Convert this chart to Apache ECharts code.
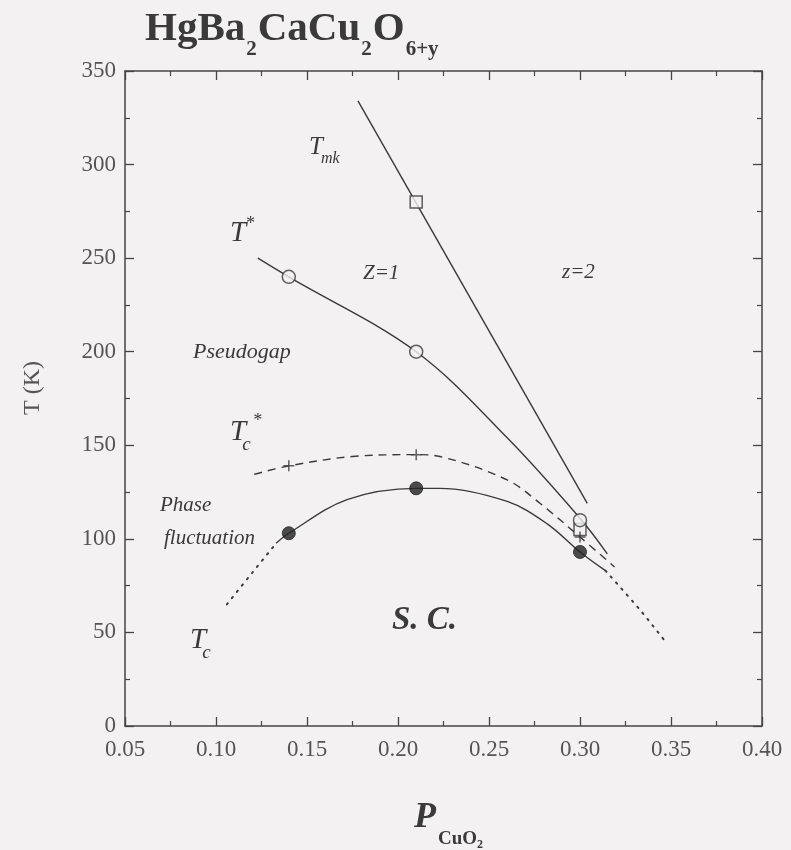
<!DOCTYPE html>
<html>
<head>
<meta charset="utf-8">
<script src="https://cdn.jsdelivr.net/npm/echarts@6/dist/echarts.min.js"></script>
<style>
  html, body { margin: 0; padding: 0; background: #f3f1f1; }
  #chart { width: 791px; height: 850px; }
</style>
</head>
<body>
<div id="chart"></div>
<script>
// Phase diagram of HgBa2CaCu2O6+y: temperature (K) versus hole content per CuO2 plane.

// axis ranges and ticks
const xRange = [0.05, 0.40];
const xStep = 0.05;
const yRange = [0, 350];
const yStep = 50;

// measured points
const tStarPts = [[0.14, 240], [0.21, 200], [0.30, 110]];     // T*  (open circles)
const tmkPts = [[0.21, 280], [0.30, 105]];                    // T_mk (open squares)
const tcStarPts = [[0.14, 139], [0.21, 145], [0.30, 101]];    // Tc* (crosses)
const tcPts = [[0.14, 103], [0.21, 127], [0.30, 93]];         // Tc  (filled circles)

// guide curves through the points
const tStarCurve = [[0.123, 250], [0.14, 240], [0.21, 200], [0.26, 154], [0.30, 111], [0.315, 92]];
const tmkLine = [[0.178, 334], [0.304, 119]];
const tcStarCurve = [[0.121, 134.5], [0.14, 139], [0.175, 144], [0.21, 145], [0.223, 144],
                     [0.26, 131.5], [0.278, 119], [0.30, 101], [0.319, 85]];
const tcCurve = [[0.133, 97.6], [0.14, 103], [0.172, 121], [0.21, 127], [0.223, 127],
                 [0.26, 120], [0.282, 108], [0.30, 93], [0.314, 83]];
const tcLowEdge = [[0.106, 65], [0.12, 82], [0.133, 97.6]];
const tcHighEdge = [[0.314, 83], [0.333, 62], [0.347, 45]];

const INK = '#3a3a3a';
const AXIS = '#454545';
const BG = '#f3f1f1';
const SERIF = '"Liberation Serif", "Times New Roman", serif';

const chart = echarts.init(document.getElementById('chart'));

// text made of runs (for sub/superscripts), laid out left to right
const measureCtx = document.createElement('canvas').getContext('2d');
function runs(x, y, parts) {
  const els = [];
  let cx = x;
  parts.forEach(p => {
    const size = p.size, weight = p.weight || 'normal', style = p.style || 'normal';
    measureCtx.font = style + ' ' + weight + ' ' + size + 'px ' + SERIF;
    cx += (p.dx || 0);
    els.push({
      type: 'text', x: cx, y: y + (p.dy || 0), z: 100,
      style: {
        text: p.t, fontSize: size, fontWeight: weight, fontStyle: style,
        fontFamily: SERIF, fill: p.color || INK, align: 'left', verticalAlign: 'middle'
      }
    });
    cx += measureCtx.measureText(p.t).width;
  });
  return els;
}

function axisCommon(showLabel) {
  return {
    axisLine: { show: true, onZero: false, lineStyle: { color: AXIS, width: 1.5 } },
    axisTick: { show: true, inside: true, length: 9, lineStyle: { color: AXIS, width: 1.3 } },
    minorTick: { show: true, splitNumber: 2, length: 5, lineStyle: { color: AXIS, width: 1.2 } },
    splitLine: { show: false },
    axisLabel: { show: showLabel }
  };
}

const labelFont = { fontFamily: SERIF, fontSize: 23, color: '#555' };

const curveStyle = (type) => ({ color: INK, width: 1.4, type: type || 'solid' });

const graphics = [].concat(
  // title
  runs(145, 29, [
    { t: 'HgBa', size: 41, weight: 'bold' },
    { t: '2', size: 21, weight: 'bold', dy: 21, dx: 1 },
    { t: 'CaCu', size: 41, weight: 'bold', dx: 1 },
    { t: '2', size: 21, weight: 'bold', dy: 21, dx: 1 },
    { t: 'O', size: 41, weight: 'bold', dx: 1 },
    { t: '6+y', size: 21, weight: 'bold', dy: 21, dx: 1 }
  ]),
  // x axis title
  runs(414, 818, [
    { t: 'P', size: 36, weight: 'bold', style: 'italic' },
    { t: 'CuO', size: 19, weight: 'bold', dy: 21, dx: 2 },
    { t: '2', size: 12, weight: 'bold', dy: 27 }
  ]),
  // curve labels
  runs(309, 147, [
    { t: 'T', size: 25, style: 'italic' },
    { t: 'mk', size: 16, style: 'italic', dy: 12, dx: -2 }
  ]),
  runs(230, 233, [
    { t: 'T', size: 29, style: 'italic' },
    { t: '*', size: 18, style: 'italic', dy: -9, dx: -1 }
  ]),
  runs(230, 432, [
    { t: 'T', size: 29, style: 'italic' },
    { t: 'c', size: 19, style: 'italic', dy: 13, dx: -4 },
    { t: '*', size: 18, style: 'italic', dy: -11, dx: 2 }
  ]),
  runs(190, 640, [
    { t: 'T', size: 29, style: 'italic' },
    { t: 'c', size: 19, style: 'italic', dy: 13, dx: -4 }
  ]),
  // region labels
  runs(363, 273, [{ t: 'Z=1', size: 21, style: 'italic' }]),
  runs(562, 272, [{ t: 'z=2', size: 21, style: 'italic' }]),
  runs(193, 352, [{ t: 'Pseudogap', size: 22, style: 'italic' }]),
  runs(160, 505, [{ t: 'Phase', size: 21, style: 'italic' }]),
  runs(164, 538, [{ t: 'fluctuation', size: 21, style: 'italic' }]),
  runs(392, 620, [{ t: 'S. C.', size: 33, weight: 'bold', style: 'italic' }]),
  // y axis title
  [{
    type: 'text', x: 33, y: 388, rotation: Math.PI / 2, z: 100,
    style: { text: 'T (K)', fontSize: 24, fontFamily: SERIF, fill: '#555', align: 'center', verticalAlign: 'middle' }
  }]
);

const option = {
  backgroundColor: BG,
  animation: false,
  grid: { left: 125, right: 29, top: 71, bottom: 124, containLabel: false },
  xAxis: [
    Object.assign(axisCommon(true), {
      type: 'value', position: 'bottom', min: xRange[0], max: xRange[1], interval: xStep,
      axisLabel: Object.assign({ show: true, margin: 12, formatter: v => v.toFixed(2) }, labelFont)
    }),
    Object.assign(axisCommon(false), {
      type: 'value', position: 'top', min: xRange[0], max: xRange[1], interval: xStep
    })
  ],
  yAxis: [
    Object.assign(axisCommon(true), {
      type: 'value', position: 'left', min: yRange[0], max: yRange[1], interval: yStep,
      axisLabel: Object.assign({ show: true, margin: 9 }, labelFont)
    }),
    Object.assign(axisCommon(false), {
      type: 'value', position: 'right', min: yRange[0], max: yRange[1], interval: yStep
    })
  ],
  series: [
    { type: 'line', data: tmkLine, showSymbol: false, symbol: 'none', lineStyle: curveStyle(), z: 2 },
    { type: 'line', data: tStarCurve, smooth: 0.35, symbol: 'none', lineStyle: curveStyle(), z: 2 },
    { type: 'line', data: tcStarCurve, smooth: 0.35, symbol: 'none', lineStyle: curveStyle([8, 6]), z: 2 },
    { type: 'line', data: tcCurve, smooth: 0.35, symbol: 'none', lineStyle: curveStyle(), z: 2 },
    { type: 'line', data: tcLowEdge, smooth: 0.3, symbol: 'none',
      lineStyle: { color: INK, width: 2, type: [1.5, 6.5], cap: 'round' }, z: 2 },
    { type: 'line', data: tcHighEdge, smooth: 0.3, symbol: 'none',
      lineStyle: { color: INK, width: 2, type: [1.5, 6.5], cap: 'round' }, z: 2 },
    { type: 'scatter', data: tmkPts, symbol: 'rect', symbolSize: 12,
      itemStyle: { color: BG, borderColor: INK, borderWidth: 1.5 }, z: 5 },
    { type: 'scatter', data: tStarPts, symbol: 'circle', symbolSize: 13,
      itemStyle: { color: BG, borderColor: INK, borderWidth: 1.5 }, z: 6 },
    { type: 'scatter', data: tcStarPts, symbol: 'path://M0,5L10,5M5,0L5,10', symbolSize: 11,
      itemStyle: { color: 'none', borderColor: INK, borderWidth: 1.5 }, z: 7 },
    { type: 'scatter', data: tcPts, symbol: 'circle', symbolSize: 13,
      itemStyle: { color: '#222', borderColor: '#222', borderWidth: 1 }, z: 8 }
  ],
  graphic: graphics
};

chart.setOption(option);
</script>
</body>
</html>
